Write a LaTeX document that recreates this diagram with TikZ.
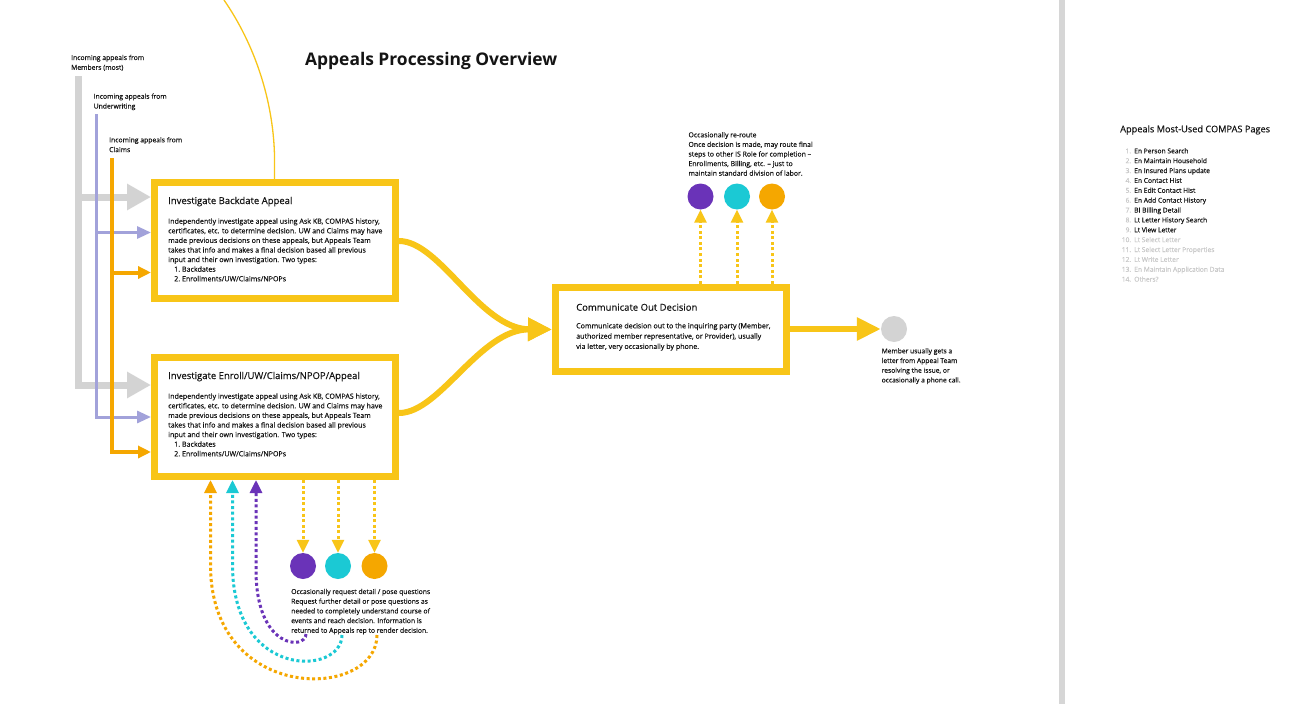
\documentclass[tikz,border=0pt]{standalone}
\usepackage{fontspec}
\setmainfont{Open Sans}[FakeBold=0.3]
\newfontfamily\titlefont{Open Sans}
\usetikzlibrary{arrows.meta}
\definecolor{ylw}{HTML}{F8C518}
\definecolor{gry}{HTML}{D3D3D3}
\definecolor{lav}{HTML}{A2A2DA}
\definecolor{org}{HTML}{F5A700}
\definecolor{pur}{HTML}{6A33B8}
\definecolor{cyn}{HTML}{1BC9D4}
\definecolor{txt}{HTML}{141414}
\definecolor{ltxt}{HTML}{C9C9C9}
\definecolor{sepc}{HTML}{D6D6D6}
\newcommand\txtlines[1]{\begin{tabular}[t]{@{}l@{}}#1\end{tabular}}
\newcommand\lnum[1]{\makebox[11pt][r]{\color{ltxt}#1}\hspace{3pt}}
\tikzset{
  stepbox/.style={draw=ylw, line width=7pt, fill=white, inner sep=0pt},
  ttl/.style={anchor=base west, inner sep=0pt, text=txt, font=\fontsize{9.5}{11}\selectfont},
  bodytxt/.style={anchor=base west, inner sep=0pt, text=txt, font=\fontsize{7.1}{9.6}\selectfont},
  smalltxt/.style={anchor=base west, inner sep=0pt, text=txt, font=\fontsize{6.8}{9.8}\selectfont},
  dotc/.style={circle, inner sep=0pt, minimum size=26pt},
  grayflow/.style={draw=gry, line width=7pt, -{Triangle[length=24pt,width=25pt]}},
  lavflow/.style={draw=lav, line width=3pt, -{Triangle[length=14pt,width=12pt]}},
  orgflow/.style={draw=org, line width=4pt, -{Triangle[length=13pt,width=12pt]}},
  ythick/.style={draw=ylw, line width=6pt, -{Triangle[length=24pt,width=22pt]}},
  dotted3/.style={line width=3pt, dash pattern=on 3pt off 2.6pt, -{Triangle[length=13pt,width=12pt]}},
}
\begin{document}
\begin{tikzpicture}[x=1pt,y=-1pt]
\useasboundingbox (0,0) rectangle (1315,704);
\fill[white] (0,0) rectangle (1315,704);
\fill[sepc] (1059,0) rectangle (1065,704);

% title
\node[anchor=base west, inner sep=0pt, text=txt, font=\titlefont\fontsize{17.4}{20}\selectfont\bfseries] (title) at (305,65.7) {Appeals Processing Overview};

% incoming labels
\node[smalltxt] (lm) at (71,60) {\txtlines{Incoming appeals from\\Members (most)}};
\node[smalltxt] (lu) at (93.5,98.7) {\txtlines{Incoming appeals from\\Underwriting}};
\node[smalltxt] (lc) at (109,142.3) {\txtlines{Incoming appeals from\\Claims}};

% thin yellow curve
\coordinate (arcstart) at (224,0);
\coordinate (arcend) at (274.5,155);

% boxes
\node[stepbox, minimum width=241pt, minimum height=116pt] (b1) at (275,240.5) {};
\node[stepbox, minimum width=241pt, minimum height=119pt] (b2) at (275,417) {};
\node[stepbox, minimum width=231pt, minimum height=84pt] (b3) at (671,329.5) {};

\draw[ylw, line width=1.3pt] (arcstart) .. controls (255,45) and (273,100) .. (arcend) -- (arcend |- b1.north);

% box texts
\node[ttl] (b1t) at (168,204) {Investigate Backdate Appeal};
\node[bodytxt] (b1b) at (168,223.7) {\txtlines{Independently investigate appeal using Ask KB, COMPAS history,\\certificates, etc. to determine decision. UW and Claims may have\\made previous decisions on these appeals, but Appeals Team\\takes that info and makes a final decision based all previous\\input and their own investigation. Two types:\\\hspace*{6pt}1.\ Backdates\\\hspace*{6pt}2.\ Enrollments/UW/Claims/NPOPs}};

\node[ttl] (b2t) at (168,379) {Investigate Enroll/UW/Claims/NPOP/Appeal};
\node[bodytxt] (b2b) at (168,398.7) {\txtlines{Independently investigate appeal using Ask KB, COMPAS history,\\certificates, etc. to determine decision. UW and Claims may have\\made previous decisions on these appeals, but Appeals Team\\takes that info and makes a final decision based all previous\\input and their own investigation. Two types:\\\hspace*{6pt}1.\ Backdates\\\hspace*{6pt}2.\ Enrollments/UW/Claims/NPOPs}};

\node[ttl] (b3t) at (576,310.7) {Communicate Out Decision};
\node[bodytxt, font=\fontsize{7.1}{10.3}\selectfont] (b3b) at (576,328.3) {\txtlines{Communicate decision out to the inquiring party (Member,\\authorized member representative, or Provider), usually\\via letter, very occasionally by phone.}};

% incoming arrows
\coordinate (gtop) at (78.5,76);
\coordinate (gy1) at (0,197);
\coordinate (gy2) at (0,385);
\draw[grayflow] (gtop) |- (b2.west |- gy2);
\draw[grayflow] (gtop |- gy1) -- (b1.west |- gy1);
\coordinate (ltop) at (96.5,114);
\coordinate (ly1) at (0,232.5);
\coordinate (ly2) at (0,417);
\draw[lavflow] (ltop) |- (b2.west |- ly2);
\draw[lavflow] (ltop |- ly1) -- (b1.west |- ly1);
\coordinate (otop) at (112,158);
\coordinate (oy1) at (0,272.5);
\coordinate (oy2) at (0,452);
\draw[orgflow] (otop) |- (b2.west |- oy2);
\draw[orgflow] (otop |- oy1) -- (b1.west |- oy1);

% merge curves
\coordinate (c1) at (0,241);
\coordinate (c2) at (0,413);
\draw[ythick] (b1.east |- c1) .. controls (440,241) and (480,329) .. (b3.west);
\draw[ythick] (b2.east |- c2) .. controls (440,413) and (480,329) .. (b3.west);

% output
\node[dotc, fill=gry] (gc) at (894,329) {};
\draw[ythick] (b3.east |- gc) -- (gc.west);
\node[smalltxt, font=\fontsize{6.7}{9.7}\selectfont] (mt) at (881.5,353.3) {\txtlines{Member usually gets a\\letter from Appeal Team\\resolving the issue, or\\occasionally a phone call.}};

% top circles
\node[dotc, fill=pur] (p1) at (700.5,196.5) {};
\node[dotc, fill=cyn] (c1c) at (737,196.5) {};
\node[dotc, fill=org] (o1) at (772,196.5) {};
\draw[dotted3, draw=ylw] (p1 |- b3.north) -- (p1.south);
\draw[dotted3, draw=ylw] (c1c |- b3.north) -- (c1c.south);
\draw[dotted3, draw=ylw] (o1 |- b3.north) -- (o1.south);
\node[smalltxt, font=\fontsize{6.9}{9.6}\selectfont] (rt) at (688.3,137.3) {\txtlines{Occasionally re-route\\Once decision is made, may route final\\steps to other IS Role for completion --\\Enrollments, Billing, etc. -- just to\\maintain standard division of labor.}};

% bottom circles
\node[dotc, fill=pur] (p2) at (303,566) {};
\node[dotc, fill=cyn] (c2c) at (338,566) {};
\node[dotc, fill=org] (o2) at (374.5,566) {};
\draw[dotted3, draw=ylw] (p2 |- b2.south) -- (p2.north);
\draw[dotted3, draw=ylw] (c2c |- b2.south) -- (c2c.north);
\draw[dotted3, draw=ylw] (o2 |- b2.south) -- (o2.north);
\node[smalltxt, font=\fontsize{6.8}{9.7}\selectfont] (bt) at (291,594) {\txtlines{Occasionally request detail / pose questions\\Request further detail or pose questions as\\needed to completely understand course of\\events and reach decision. Information is\\returned to Appeals rep to render decision.}};

% return curves
\coordinate (pr) at (306,634);
\coordinate (pv) at (256,570);
\draw[dotted3, draw=pur] (pr) .. controls (306,650) and (256,650) .. (pv) -- (pv |- b2.south);
\coordinate (cr) at (342,635);
\coordinate (cv) at (232.5,565);
\draw[dotted3, draw=cyn] (cr) .. controls (342,676) and (232.5,680) .. (cv) -- (cv |- b2.south);
\coordinate (orr) at (377,635);
\coordinate (ov) at (210.5,565);
\draw[dotted3, draw=org] (orr) .. controls (377,700) and (210.5,705) .. (ov) -- (ov |- b2.south);

% right list
\node[anchor=base west, inner sep=0pt, text=txt, font=\fontsize{9.2}{10}\selectfont] (lt) at (1120,132.3) {Appeals Most-Used COMPAS Pages};
\node[smalltxt, font=\fontsize{6.7}{9.87}\selectfont] (ls) at (1120,153.3) {\txtlines{%
\lnum{1.}En Person Search\\
\lnum{2.}En Maintain Household\\
\lnum{3.}En Insured Plans update\\
\lnum{4.}En Contact Hist\\
\lnum{5.}En Edit Contact Hist\\
\lnum{6.}En Add Contact History\\
\lnum{7.}BI Billing Detail\\
\lnum{8.}Lt Letter History Search\\
\lnum{9.}Lt View Letter\\
\color{ltxt}\lnum{10.}Lt Select Letter\\
\color{ltxt}\lnum{11.}Lt Select Letter Properties\\
\color{ltxt}\lnum{12.}Lt Write Letter\\
\color{ltxt}\lnum{13.}En Maintain Application Data\\
\color{ltxt}\lnum{14.}Others?}};
\end{tikzpicture}
\end{document}
